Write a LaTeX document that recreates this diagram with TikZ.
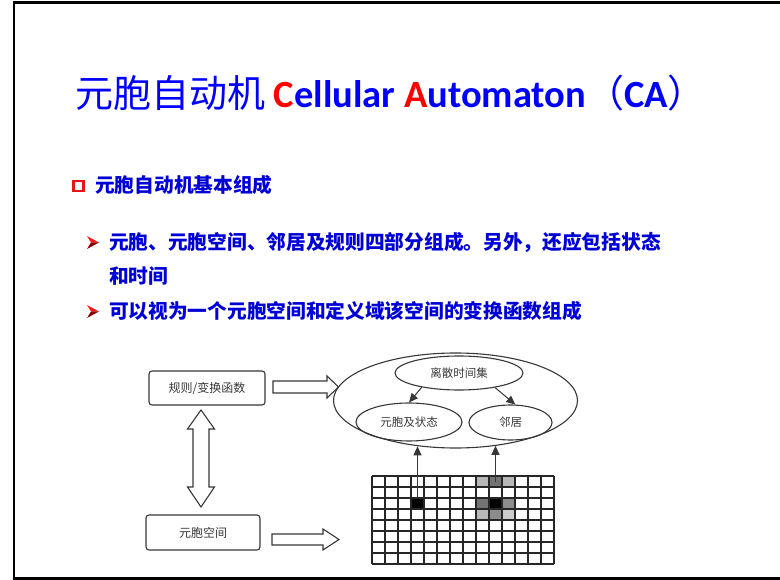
\documentclass[tikz,border=0pt]{standalone}
\usepackage{fontspec}
\setmainfont{Carlito}
\newfontfamily\cjk{Noto Sans CJK SC}
\newfontfamily\lat{Carlito}
\usetikzlibrary{shapes.geometric,arrows.meta}
\definecolor{ttlblue}{RGB}{0,0,255}
\definecolor{txtblue}{RGB}{0,0,215}
\definecolor{diag}{RGB}{55,55,55}
\definecolor{bulletred}{RGB}{235,20,20}
\begin{document}
\begin{tikzpicture}[x=1pt,y=-1pt,
  box/.style={draw=diag, line width=1.1pt, rounded corners=3pt, inner sep=0pt, font=\cjk\fontsize{12}{14}\selectfont, text=diag},
  ell/.style={ellipse, draw=diag, line width=1.1pt, inner sep=0pt, font=\cjk\fontsize{11.5}{13}\selectfont, text=diag},
  hollow/.style={draw=diag, line width=1.1pt, fill=white, line join=miter},
  tri/.style={-{Triangle[length=9pt,width=8pt]}, draw=diag, fill=diag, line width=1pt},
  gridline/.style={draw=black!85, line width=1.3pt},
  cellbox/.style={draw=none, minimum width=13pt, minimum height=11pt, inner sep=0pt},
  body/.style={anchor=base west, inner sep=0pt, text=txtblue, font=\cjk\bfseries\fontsize{19.7}{24}\selectfont},
]
\useasboundingbox (0,0) rectangle (780,580);
% frame
\draw[line width=2.6pt, black] (782,2.5) -- (14,2.5) -- (14,578.5) -- (782,578.5);

% title
\node[anchor=base west, inner sep=0pt, text=ttlblue] (title) at (75,108)
  {{\cjk\fontsize{38}{40}\selectfont 元胞自动机}{\lat\bfseries\fontsize{38.5}{40}\selectfont\ \textcolor{red}{C}ellular \textcolor{red}{A}utomaton}{\cjk\fontsize{38}{40}\selectfont （}{\lat\bfseries\fontsize{38.5}{40}\selectfont CA}{\cjk\fontsize{38}{40}\selectfont ）}};

% subtitle with square bullet
\draw[bulletred, line width=2.4pt, fill=white] (73.5,181) rectangle (83.5,191);
\node[body] (sub) at (95,193) {元胞自动机基本组成};

% arrowhead bullets
\fill[red!90!white] (87,236) -- (99,242.5) -- (91,242.5) -- cycle;
\fill[red!55!black] (91,242.5) -- (99,242.5) -- (87,249) -- cycle;
\fill[red!90!white] (87,305) -- (99,311.5) -- (91,311.5) -- cycle;
\fill[red!55!black] (91,311.5) -- (99,311.5) -- (87,318) -- cycle;

\node[body] (l1) at (109,250) {元胞、元胞空间、邻居及规则四部分组成。另外，还应包括状态};
\node[body] (l2) at (109,283.5) {和时间};
\node[body] (l3) at (109,318.5) {可以视为一个元胞空间和定义域该空间的变换函数组成};

% left boxes
\node[box, minimum width=116pt, minimum height=34pt] (rule) at (207,388) {规则/变换函数};
\node[box, minimum width=114pt, minimum height=35pt] (space) at (203,532.5) {元胞空间};

% hollow arrows
\draw[hollow] (201,410) -- (214.5,429) -- (209,429) -- (209,487) -- (214.5,487) -- (201,507)
  -- (187.5,487) -- (193,487) -- (193,429) -- (187.5,429) -- cycle;
\draw[hollow] (273,381) -- (327,381) -- (327,376) -- (338.5,387) -- (327,398) -- (327,393) -- (273,393) -- cycle;
\draw[hollow] (272,534) -- (323,534) -- (323,529) -- (339,539.5) -- (323,550) -- (323,545) -- (272,545) -- cycle;

% ellipses
\node[ell, minimum width=244pt, minimum height=95pt] (outer) at (455.5,400.5) {};
\node[ell, minimum width=128pt, minimum height=34pt] (top) at (459,373) {离散时间集};
\node[ell, minimum width=106pt, minimum height=38pt] (left) at (409,422) {元胞及状态};
\node[ell, minimum width=83pt, minimum height=35pt] (right) at (510.5,422.5) {邻居};
\draw[tri] (top.201) -- (left.north);
\draw[tri] (top.338) -- (right.75);

% grid cells
\node[cellbox, fill=black] (ca) at (417.5,503.5) {};
\node[cellbox, fill=black] (cc) at (495.5,503.5) {};
\node[cellbox, fill=black!55] (cn) at (495.5,481.5) {};
\node[cellbox, fill=black!55] (cw) at (482.5,503.5) {};
\node[cellbox, fill=black!45] (ce) at (508.5,503.5) {};
\node[cellbox, fill=black!45] (cs) at (495.5,514.5) {};
\node[cellbox, fill=black!28] (cnw) at (482.5,481.5) {};
\node[cellbox, fill=black!28] (cne) at (508.5,481.5) {};
\node[cellbox, fill=black!28] (csw) at (482.5,514.5) {};
\node[cellbox, fill=black!20] (cse) at (508.5,514.5) {};
% grid lines
\foreach \i in {0,...,14} \draw[gridline] (372+13*\i,476) -- (372+13*\i,564);
\foreach \j in {0,...,8} \draw[gridline] (372,476+11*\j) -- (554,476+11*\j);

% up arrows
\draw[tri] (ca.north) -- (ca.north |- outer.231);
\draw[tri] (cn.center) -- (cn.center |- outer.312);
\end{tikzpicture}
\end{document}
